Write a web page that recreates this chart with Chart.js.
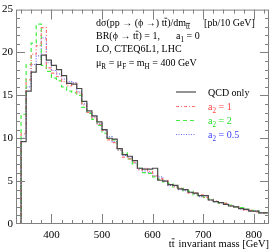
<!DOCTYPE html>
<html><head><meta charset="utf-8">
<script src="https://cdn.jsdelivr.net/npm/chart.js@4.4.1/dist/chart.umd.min.js"></script>
<style>html,body{margin:0;padding:0;background:#fff;}#wrap{width:272px;height:252px;}</style>
</head><body><div id="wrap"><canvas id="c" width="272" height="252"></canvas></div>
<script>
// lower bin edges [GeV], 10 GeV bins
const bins = [340,350,360,370,380,390,400,410,420,430,440,450,460,470,480,490,500,510,520,530,540,550,560,570,580,590,600,610,620,630,640,650,660,670,680,690,700,710,720,730,740,750,760,770,780,790,800,810,820];
const binWidth = 10;
const qcdOnly = [0.5,9.6,15.5,17.7,18.6,19.7,19.1,18.5,18.0,17.3,16.4,16.3,15.8,14.3,13.2,12.6,11.9,11.0,10.0,9.9,8.8,8.1,7.9,7.4,6.5,6.4,6.4,6.5,5.1,5.0,4.6,4.5,4.1,4.0,3.7,3.6,3.3,3.3,2.8,2.6,2.5,2.3,2.1,2.0,1.8,1.7,1.5,1.5,1.3];
const a2one = [0.5,10.5,16.8,19.8,20.8,22.9,18.2,17.6,17.2,16.6,16.1,16.4,15.3,13.9,13.0,12.4,11.6,10.9,9.8,9.5,8.6,7.8,7.6,7.2,6.3,6.5,6.1,5.6,5.3,5.1,4.6,4.3,4.2,4.0,3.6,3.6,3.4,3.1,2.8,2.7,2.5,2.4,2.1,2.0,1.8,1.6,1.6,1.4,1.3];
const a2two = [1.1,12.8,18.6,21.1,23.3,18.5,17.8,17.0,16.7,16.0,15.5,15.3,15.0,13.6,12.9,12.2,11.5,10.6,10.0,9.8,8.8,8.3,7.6,7.0,6.5,6.0,5.9,5.5,5.2,4.9,4.7,4.3,4.2,3.9,3.8,3.4,3.3,3.1,2.9,2.6,2.4,2.4,2.2,2.0,1.9,1.7,1.6,1.5,1.3];
const a2half = [0.5,10.0,16.0,18.6,19.6,21.7,18.8,17.9,17.5,16.9,16.6,16.5,15.4,14.0,13.0,12.5,11.7,10.9,10.2,9.6,8.6,8.0,7.8,7.1,6.4,6.2,6.0,5.6,5.5,5.0,4.5,4.4,4.0,3.9,3.7,3.5,3.2,3.3,2.8,2.6,2.5,2.3,2.1,2.0,1.8,1.7,1.5,1.5,1.3];
const xTickLabels = [400,500,600,700,800];
const xMinorStep = 20;
const yTickLabels = [0,5,10,15,20,25];
const yMinorStep = 1;
const xRange = [330,830];
const yRange = [0,25];

function steps(vals){
  const pts=[{x:bins[0],y:0}];
  bins.forEach((b,i)=>pts.push({x:b,y:vals[i]}));
  pts.push({x:bins[bins.length-1]+binWidth,y:vals[vals.length-1]});
  return pts;
}

const SERIF = '"Liberation Serif", "Times New Roman", serif';

function drawRich(ctx, x, y, segs, size, color){
  let cx = x;
  segs.forEach(s=>{
    const fs = s.sub ? size*0.72 : size;
    ctx.font = fs + 'px ' + SERIF;
    ctx.fillStyle = s.color || color;
    const dy = s.sub ? size*0.3 : 0;
    ctx.fillText(s.t, cx, y+dy);
    const w = ctx.measureText(s.t).width;
    if (s.bar){
      ctx.strokeStyle = s.color || color; ctx.lineWidth = 0.8;
      ctx.beginPath(); ctx.moveTo(cx, y+dy-fs*0.78); ctx.lineTo(cx+w, y+dy-fs*0.78); ctx.stroke();
    }
    cx += w + (s.gap||0);
  });
}

const framePlugin = {
  id:'frame',
  afterDraw(chart){
    const {ctx, chartArea:a, scales:{x,y}} = chart;
    ctx.save();
    ctx.strokeStyle = '#808080'; ctx.lineWidth = 1;
    ctx.strokeRect(a.left+0.5, a.top+0.5, a.right-a.left-1, a.bottom-a.top-1);
    ctx.beginPath();
    for (let v = xRange[0]+10; v < xRange[1]; v += xMinorStep){
      const px = Math.round(x.getPixelForValue(v))+0.5;
      const L = xTickLabels.includes(v) ? 10 : 4;
      ctx.moveTo(px, a.bottom); ctx.lineTo(px, a.bottom-L);
      ctx.moveTo(px, a.top); ctx.lineTo(px, a.top+L);
    }
    for (let v = yRange[0]+1; v < yRange[1]; v += yMinorStep){
      const py = Math.round(y.getPixelForValue(v))+0.5;
      const L = yTickLabels.includes(v) ? 9 : 4;
      ctx.moveTo(a.left, py); ctx.lineTo(a.left+L, py);
      ctx.moveTo(a.right, py); ctx.lineTo(a.right-L, py);
    }
    ctx.stroke();

    // annotation text
    ctx.textBaseline = 'alphabetic'; ctx.textAlign = 'left';
    const tx = 96, sz = 10;
    drawRich(ctx, tx, 26, [
      {t:'d\u03c3(pp \u2192 (\u03d5 \u2192) t'},{t:'t',bar:true},{t:')/dm'},
      {t:'tt',sub:true,bar:true,gap:14},{t:'[pb/10 GeV]'}], sz, '#000');
    drawRich(ctx, tx, 39, [
      {t:'BR(\u03d5 \u2192 t'},{t:'t',bar:true},{t:') = 1,',gap:16},{t:'a'},{t:'1',sub:true},{t:' = 0'}], sz, '#000');
    drawRich(ctx, tx, 52, [{t:'LO, CTEQ6L1, LHC'}], sz, '#000');
    drawRich(ctx, tx, 66, [
      {t:'\u03bc'},{t:'R',sub:true},{t:' = \u03bc'},{t:'F',sub:true},{t:' = m'},{t:'H',sub:true},{t:' = 400 GeV'}], sz, '#000');

    // legend
    const ly = [92, 106.5, 120.5, 134.5];
    const names = [[{t:'QCD only'}],[{t:'a'},{t:'2',sub:true},{t:' = 1'}],[{t:'a'},{t:'2',sub:true},{t:' = 2'}],[{t:'a'},{t:'2',sub:true},{t:' = 0.5'}]];
    chart.data.datasets.forEach((ds,i)=>{
      ctx.strokeStyle = ds.borderColor; ctx.lineWidth = ds.borderWidth;
      ctx.setLineDash(ds.borderDash||[]);
      ctx.beginPath(); ctx.moveTo(176, ly[i]); ctx.lineTo(196, ly[i]); ctx.stroke();
      ctx.setLineDash([]);
      drawRich(ctx, 208, ly[i]+3.5, names[i], sz, ds.textColor);
    });

    // x axis title
    const title = [{t:'t'},{t:'t',bar:true,gap:4},{t:'invariant mass [GeV]'}];
    let w = 0; title.forEach(s=>{ctx.font='10.5px '+SERIF; w += ctx.measureText(s.t).width + (s.gap||0);});
    drawRich(ctx, a.right - w, 247, title, 10.5, '#000');
    ctx.restore();
  }
};

new Chart(document.getElementById('c'), {
  type:'line',
  data:{datasets:[
    {label:'QCD only', data:steps(qcdOnly), borderColor:'#4a4a4a', borderWidth:1.2, textColor:'#000', borderDash:[]},
    {label:'a2 = 1', data:steps(a2one), borderColor:'#ff7070', borderWidth:1.2, textColor:'#ff4040', borderDash:[3,2,1,2]},
    {label:'a2 = 2', data:steps(a2two), borderColor:'#44ee44', borderWidth:1.2, textColor:'#22dd22', borderDash:[4,3]},
    {label:'a2 = 0.5', data:steps(a2half), borderColor:'#7070ff', borderWidth:1.2, textColor:'#4040ff', borderDash:[1,1.5]}
  ]},
  options:{
    responsive:false, animation:false, devicePixelRatio:1,
    layout:{padding:{top:5,right:3,left:0,bottom:0}},
    elements:{point:{radius:0}, line:{stepped:'after', tension:0, fill:false}},
    plugins:{legend:{display:false}, tooltip:{enabled:false}},
    scales:{
      x:{type:'linear', min:xRange[0], max:xRange[1],
         afterBuildTicks:s=>{s.ticks = xTickLabels.map(v=>({value:v}));},
         afterFit:s=>{s.height = 28;},
         grid:{display:false, drawTicks:false}, border:{display:false},
         ticks:{padding:5, color:'#000', font:{family:SERIF, size:11}, maxRotation:0, autoSkip:false}},
      y:{type:'linear', min:yRange[0], max:yRange[1],
         afterBuildTicks:s=>{s.ticks = yTickLabels.map(v=>({value:v}));},
         afterFit:s=>{s.width = 16;},
         grid:{display:false, drawTicks:false}, border:{display:false},
         ticks:{padding:3, color:'#000', font:{family:SERIF, size:11}, autoSkip:false}}
    }
  },
  plugins:[framePlugin]
});
</script></body></html>
